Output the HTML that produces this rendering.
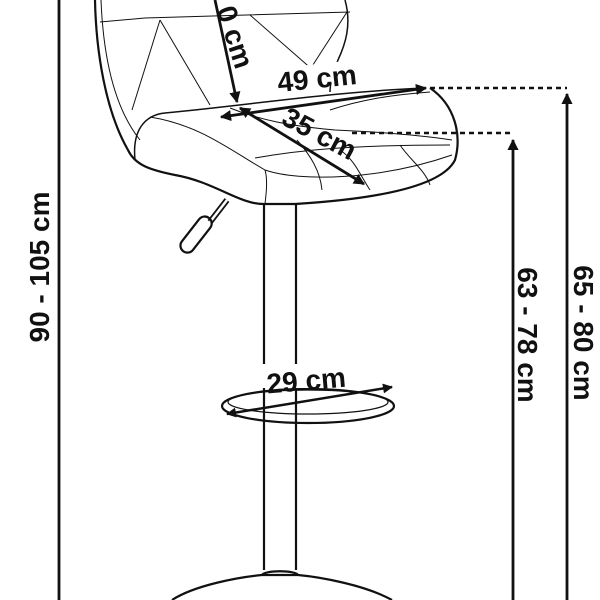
<!DOCTYPE html>
<html><head><meta charset="utf-8"><style>
html,body{margin:0;padding:0;background:#fff;width:600px;height:600px;overflow:hidden}
svg text{font-family:"Liberation Sans",sans-serif;font-weight:bold;fill:#111}
</style></head><body>
<svg width="600" height="600" viewBox="0 0 600 600" xmlns="http://www.w3.org/2000/svg">
<defs>
<marker id="a" viewBox="0 0 10 10" refX="9" refY="5" markerWidth="4" markerHeight="4" orient="auto-start-reverse"><path d="M0,0L10,5L0,10z" fill="#111"/></marker>
</defs>
<g fill="none" stroke="#111" stroke-width="2.2">
<path d="M95,0 C96,50 105,110 128,150 C135,165 150,170 175,175 C215,182 240,205 265,204 L295,204 C360,200 440,190 455,160 C462,135 455,105 430,88"/>
<path d="M101,0 C103,50 112,105 140,140" stroke-width="1"/>
<path d="M345,0 C352,25 345,45 338,60 C332,75 330,85 330,92" stroke-width="1.5"/>
<path d="M135,160 C132,130 145,115 165,113 C250,105 330,92 425,88" stroke-width="1.5"/>
<path d="M150,117 C200,125 230,150 265,170 C300,182 380,180 452,155" stroke-width="1"/>
<path d="M265,170 C268,180 266,195 265,204" stroke-width="1"/>
<path d="M297,140 C310,155 320,170 322,190" stroke-width="1"/>
<g stroke-width="1">
<path d="M100,22 L145,18 L350,12"/>
<path d="M160,20 L132,110"/><path d="M160,20 L210,105"/>
<path d="M250,15 L330,85"/><path d="M347,12 L300,85"/>
<path d="M230,108 C260,120 290,126 335,130 C380,132 420,135 452,140"/>
<path d="M255,158 C300,150 350,145 450,145"/>
<path d="M330,110 C360,100 390,95 430,92"/>
<path d="M340,150 C355,160 360,175 370,190"/>
<path d="M400,145 C410,160 425,170 430,185"/>
</g>
<path d="M227,200 L210,222" stroke-width="6"/>
<path d="M227,200 L210,222" stroke="#fff" stroke-width="2.5"/>
<rect x="-7" y="0" width="14" height="42" rx="7" transform="translate(209,218) rotate(38)" />
<path d="M264,204 V570 M296,204 V570"/>
<ellipse cx="308" cy="406" rx="86" ry="17"/>
<ellipse cx="308" cy="402" rx="80" ry="12" stroke-width="1.2"/>
<path d="M172,600 C195,585 240,577 262,575 L298,575 C320,577 365,585 392,600"/>
<path d="M262,575 C265,570 295,570 298,575"/>
<path d="M59,0 V600" stroke-width="2.8"/>
<path d="M567,600 V94" marker-end="url(#a)" stroke-width="2.8"/>
<path d="M513,600 V140" marker-end="url(#a)" stroke-width="2.8"/>
<path d="M430,88 H567 M352,133 H513" stroke-dasharray="5,4" stroke-width="2.5"/>
<path d="M215,0 L237,102" marker-end="url(#a)" stroke-width="2.8"/>
<path d="M221,117 L426,88" marker-start="url(#a)" marker-end="url(#a)" stroke-width="2.8"/>
<path d="M240,108 L364,184" marker-start="url(#a)" marker-end="url(#a)" stroke-width="2.8"/>
<path d="M227,414 L392,387" marker-start="url(#a)" marker-end="url(#a)" stroke-width="2.5"/>
</g>
<rect x="258" y="364" width="96" height="24" fill="#fff"/>
<text x="307" y="390" font-size="28" text-anchor="middle" transform="rotate(-5 307 390)">29 cm</text>
<rect x="276" y="64" width="84" height="20" fill="#fff" transform="rotate(-6 318 74)"/>
<text x="318" y="88" font-size="28" text-anchor="middle" transform="rotate(-6 318 88)">49 cm</text>
<text x="315" y="142" font-size="28" text-anchor="middle" transform="rotate(28 315 142)">35 cm</text>
<text x="226" y="40" font-size="28" text-anchor="middle" transform="rotate(72 226 40)">0 cm</text>
<text x="49" y="267" font-size="28" text-anchor="middle" transform="rotate(-90 49 267)">90 - 105 cm</text>
<text x="518" y="335" font-size="28" text-anchor="middle" transform="rotate(90 518 335)">63 - 78 cm</text>
<text x="574" y="333" font-size="28" text-anchor="middle" transform="rotate(90 574 333)">65 - 80 cm</text>
</svg>
</body></html>
